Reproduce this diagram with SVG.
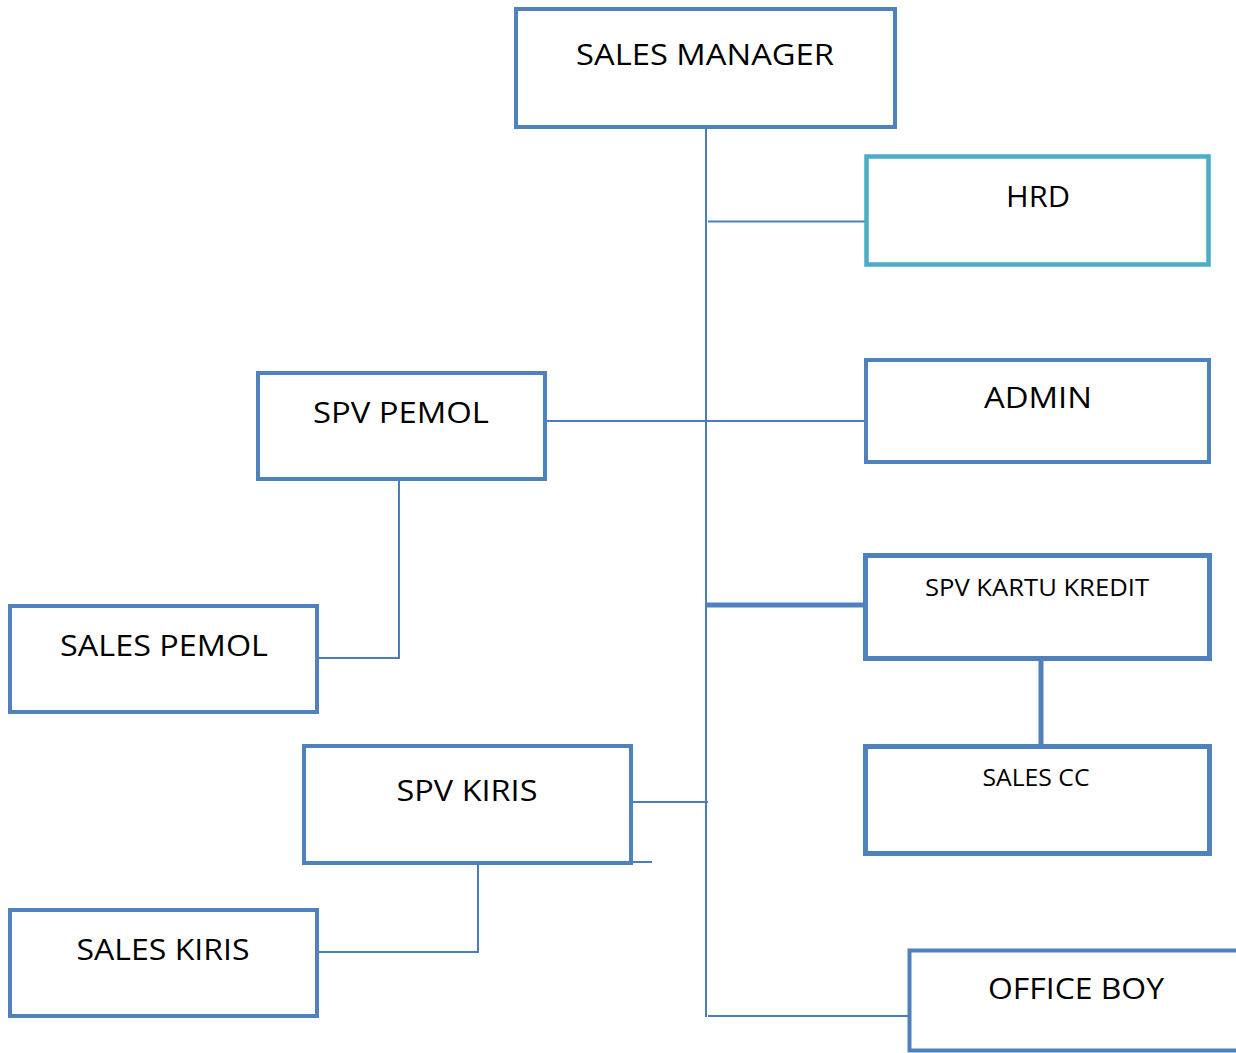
<svg xmlns="http://www.w3.org/2000/svg" width="1236" height="1053" viewBox="0 0 1236 1053">
<style>
.box{fill:#fff;stroke:#4F81BD;stroke-width:4}
.hrd{fill:#fff;stroke:#4BACC6;stroke-width:4.5}
.t{font-family:"Open Sans","Noto Sans",sans-serif;font-size:30px;fill:#000;text-anchor:middle}
.s{font-family:"Open Sans","Noto Sans",sans-serif;font-size:23px;fill:#000;text-anchor:middle}
.ln{stroke:#4A7EBB;stroke-width:2;fill:none}
.thk{stroke:#4F81BD;stroke-width:5;fill:none}
</style>
<rect width="1236" height="1053" fill="#fff"/>
<g id="connectors">
<line class="ln" x1="706" y1="129" x2="706" y2="1017"/>
<line class="ln" x1="708" y1="221.5" x2="865" y2="221.5"/>
<line class="ln" x1="547" y1="421" x2="865" y2="421"/>
<line class="thk" x1="706" y1="605" x2="865" y2="605"/>
<line class="thk" x1="1041" y1="660" x2="1041" y2="746"/>
<polyline class="ln" points="399,480 399,658 319,658"/>
<line class="ln" x1="632" y1="802" x2="708" y2="802"/>
<line class="ln" x1="632" y1="862" x2="652" y2="862"/>
<polyline class="ln" points="478,864 478,952 318,952"/>
<line class="ln" x1="708" y1="1016" x2="909" y2="1016"/>
</g>
<g id="sales-manager"><rect class="box" x="516" y="9" width="379" height="118"/><text class="t" x="705" y="65" textLength="258" lengthAdjust="spacingAndGlyphs">SALES MANAGER</text></g>
<g id="hrd"><rect class="hrd" x="866.5" y="156.5" width="342" height="108"/><text class="t" x="1038" y="207" textLength="64" lengthAdjust="spacingAndGlyphs">HRD</text></g>
<g id="spv-pemol"><rect class="box" x="258" y="373" width="287" height="106"/><text class="t" x="401" y="423" textLength="176" lengthAdjust="spacingAndGlyphs">SPV PEMOL</text></g>
<g id="admin"><rect class="box" x="866" y="360" width="343" height="102"/><text class="t" x="1038" y="408" textLength="108" lengthAdjust="spacingAndGlyphs">ADMIN</text></g>
<g id="spv-kartu-kredit"><rect class="box" x="865.5" y="555.5" width="344" height="103" style="stroke-width:5"/><text class="s" x="1037" y="596" textLength="224" lengthAdjust="spacingAndGlyphs">SPV KARTU KREDIT</text></g>
<g id="sales-pemol"><rect class="box" x="10" y="606" width="307" height="106"/><text class="t" x="164" y="656" textLength="208" lengthAdjust="spacingAndGlyphs">SALES PEMOL</text></g>
<g id="sales-cc"><rect class="box" x="865.5" y="746.5" width="344" height="107" style="stroke-width:5"/><text class="s" x="1036" y="786" textLength="107" lengthAdjust="spacingAndGlyphs">SALES CC</text></g>
<g id="spv-kiris"><rect class="box" x="304" y="746" width="327" height="117"/><text class="t" x="467" y="801" textLength="141" lengthAdjust="spacingAndGlyphs">SPV KIRIS</text></g>
<g id="sales-kiris"><rect class="box" x="10" y="910" width="307" height="106"/><text class="t" x="163" y="960" textLength="173" lengthAdjust="spacingAndGlyphs">SALES KIRIS</text></g>
<g id="office-boy"><rect class="box" x="909.5" y="950.5" width="340" height="100"/><text class="t" x="1076" y="999" textLength="176" lengthAdjust="spacingAndGlyphs">OFFICE BOY</text></g>
</svg>
